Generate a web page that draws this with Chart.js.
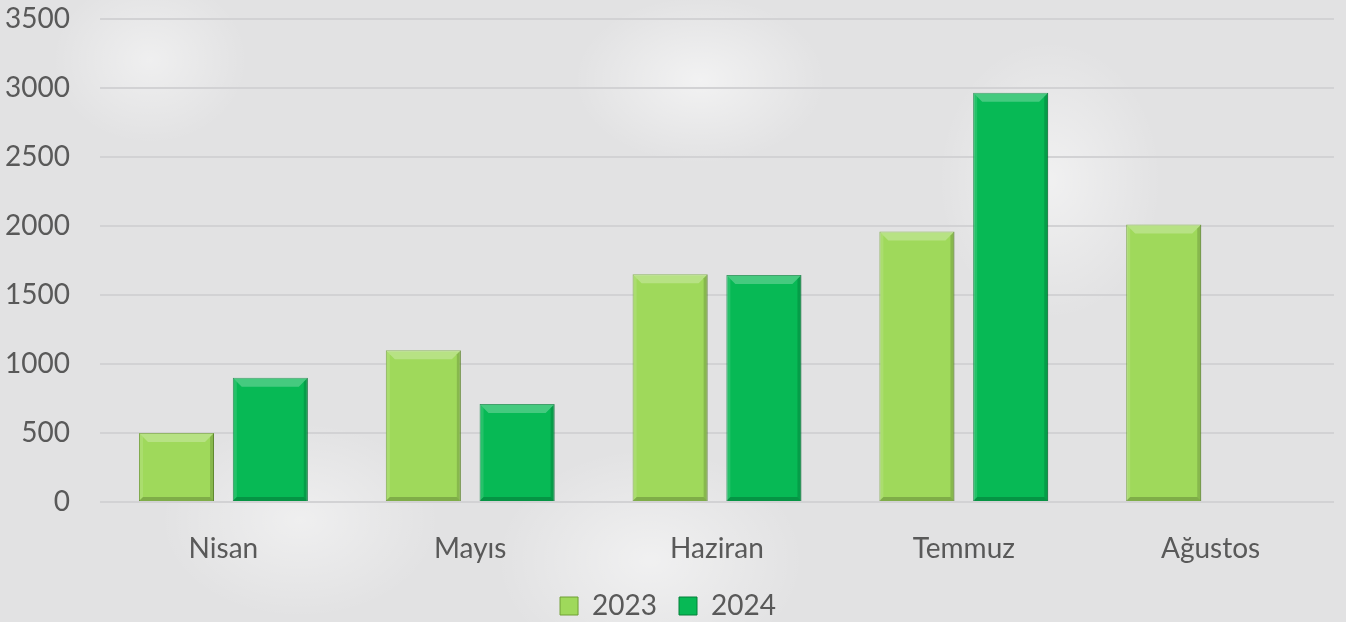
<!DOCTYPE html>
<html>
<head>
<meta charset="utf-8">
<script src="https://cdn.jsdelivr.net/npm/chart.js@4/dist/chart.umd.min.js"></script>
<style>
  html, body { margin: 0; padding: 0; }
  body {
    width: 1346px; height: 622px; overflow: hidden;
    background:
      radial-gradient(ellipse 180px 120px at 700px 80px, rgba(255,255,255,0.55), rgba(255,255,255,0) 70%),
      radial-gradient(ellipse 160px 200px at 1050px 180px, rgba(255,255,255,0.5), rgba(255,255,255,0) 70%),
      radial-gradient(ellipse 200px 140px at 300px 520px, rgba(255,255,255,0.45), rgba(255,255,255,0) 70%),
      radial-gradient(ellipse 220px 160px at 650px 560px, rgba(255,255,255,0.5), rgba(255,255,255,0) 70%),
      radial-gradient(ellipse 140px 120px at 150px 60px, rgba(255,255,255,0.45), rgba(255,255,255,0) 70%),
      #e2e2e3;
  }
  #wrap { position: absolute; left: 0; top: 0; width: 1346px; height: 622px; }
</style>
</head>
<body>
<div id="wrap"><canvas id="grafik"></canvas></div>
<script>
// Data
const aylar = ['Nisan', 'Mayıs', 'Haziran', 'Temmuz', 'Ağustos'];
const yil2023 = [500, 1100, 1650, 1960, 2010];
const yil2024 = [900, 710, 1645, 2965, null];
const yEtiketleri = [0, 500, 1000, 1500, 2000, 2500, 3000, 3500];

const renk2023 = '#9fd95b';
const kenar2023 = '#6f9f35';
const renk2024 = '#07b955';
const kenar2024 = '#05803b';
const yaziFont = { family: 'Lato', size: 28 };

// Kabartma (bevel) efekti için eklenti
const bevelPlugin = {
  id: 'bevel',
  afterDatasetsDraw(chart) {
    const ctx = chart.ctx;
    chart.data.datasets.forEach((ds, i) => {
      const meta = chart.getDatasetMeta(i);
      meta.data.forEach((bar, j) => {
        if (ds.data[j] == null) return;
        const { x, y, base, width } = bar.getProps(['x', 'y', 'base', 'width'], true);
        const l = x - width / 2, r = x + width / 2, b = base, t = y;
        const d = 9;
        ctx.save();
        // üst kenar (açık)
        ctx.fillStyle = 'rgba(255,255,255,0.25)';
        ctx.beginPath();
        ctx.moveTo(l, t); ctx.lineTo(r, t); ctx.lineTo(r - d, t + d); ctx.lineTo(l + d, t + d); ctx.closePath();
        ctx.fill();
        // sol kenar
        ctx.fillStyle = 'rgba(255,255,255,0.12)';
        ctx.beginPath();
        ctx.moveTo(l, t); ctx.lineTo(l + 4, t + 4); ctx.lineTo(l + 4, b - 4); ctx.lineTo(l, b); ctx.closePath();
        ctx.fill();
        // sağ kenar (koyu)
        ctx.fillStyle = 'rgba(0,0,0,0.15)';
        ctx.beginPath();
        ctx.moveTo(r, t); ctx.lineTo(r - 4, t + 4); ctx.lineTo(r - 4, b - 4); ctx.lineTo(r, b); ctx.closePath();
        ctx.fill();
        // alt kenar (koyu)
        ctx.fillStyle = 'rgba(0,0,0,0.2)';
        ctx.beginPath();
        ctx.moveTo(l, b); ctx.lineTo(r, b); ctx.lineTo(r - 4, b - 4); ctx.lineTo(l + 4, b - 4); ctx.closePath();
        ctx.fill();
        ctx.restore();
      });
    });
  }
};

const ctx = document.getElementById('grafik').getContext('2d');
new Chart(ctx, {
  type: 'bar',
  data: {
    labels: aylar,
    datasets: [
      {
        label: '2023',
        data: yil2023,
        backgroundColor: renk2023,
        borderColor: kenar2023,
        borderWidth: 1
      },
      {
        label: '2024',
        data: yil2024,
        backgroundColor: renk2024,
        borderColor: kenar2024,
        borderWidth: 1
      }
    ]
  },
  options: {
    responsive: true,
    maintainAspectRatio: false,
    animation: false,
    categoryPercentage: 0.76,
    barPercentage: 0.8,
    layout: { padding: { top: 0, right: 12, left: 2, bottom: -8 } },
    plugins: {
      legend: {
        position: 'bottom',
        labels: {
          font: yaziFont,
          color: '#595959',
          boxWidth: 18,
          boxHeight: 18,
          padding: 22
        }
      },
      tooltip: { enabled: false }
    },
    scales: {
      x: {
        grid: { display: false },
        border: { display: false },
        ticks: {
          font: yaziFont,
          color: '#595959',
          padding: 22,
          maxRotation: 0
        },
        afterFit: (axis) => { axis.height = 68; }
      },
      y: {
        min: yEtiketleri[0],
        max: yEtiketleri[yEtiketleri.length - 1],
        afterBuildTicks: (axis) => { axis.ticks = yEtiketleri.map(v => ({ value: v })); },
        afterFit: (axis) => { axis.width = 98; axis.paddingTop = 19; axis.paddingBottom = 0; },
        ticks: {
          font: yaziFont,
          color: '#595959',
          padding: 30,
          callback: (v) => String(v)
        },
        grid: { color: '#d2d2d4', lineWidth: 2, drawTicks: false },
        border: { display: false }
      }
    }
  },
  plugins: [bevelPlugin]
});
</script>
</body>
</html>
